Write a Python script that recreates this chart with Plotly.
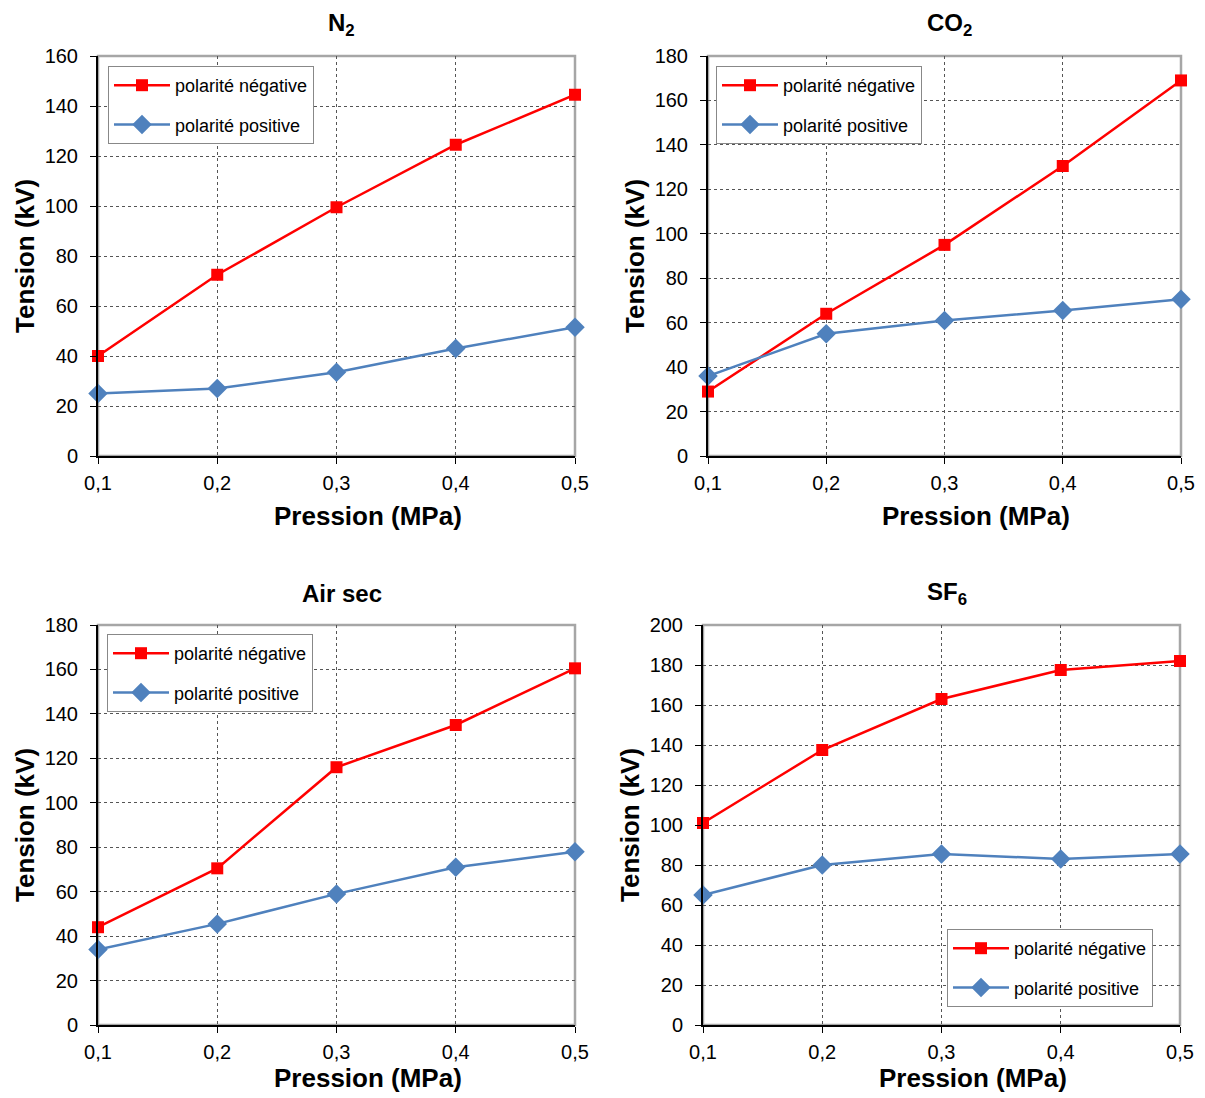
import plotly.graph_objects as go

# ---- data ----
PRESSION = [0.1, 0.2, 0.3, 0.4, 0.5]
PRESSION_LABELS = ["0,1", "0,2", "0,3", "0,4", "0,5"]

GAS_TITLES = ["<b>N<sub>2</sub></b>", "<b>CO<sub>2</sub></b>", "<b>Air sec</b>", "<b>SF<sub>6</sub></b>"]

N2_NEG = [40, 72.5, 99.5, 124.5, 144.5]
N2_POS = [25, 27, 33.5, 43, 51.5]

CO2_NEG = [29, 64, 95, 130.5, 169]
CO2_POS = [36, 55, 61, 65.5, 70.5]

AIR_NEG = [44, 70.5, 116, 135, 160.5]
AIR_POS = [34, 45.5, 59, 71, 78]

SF6_NEG = [101, 137.5, 163, 177.5, 182]
SF6_POS = [65, 80, 85.5, 83, 85.5]

Y_MAX = [160, 180, 180, 200]

NEG_NAME = "polarité négative"
POS_NAME = "polarité positive"

FONT = "Liberation Sans, Arial, sans-serif"
PAGE_W, PAGE_H = 1205, 1098
OFF = 8  # default page body margin
W, H = PAGE_W - 2 * OFF, PAGE_H - OFF


def px(xp):
    return (xp - OFF) / W


def py(yp):
    return 1 - (yp - OFF) / H


# plot-area pixel boxes on the page (left, right, top, bottom)
boxes = [(98, 575, 56, 456), (708, 1181, 56, 456), (98, 575, 625, 1025), (703, 1180, 625, 1025)]
legend_pos = [(108, 66), (716, 66), (107, 634), (947, 929)]
xtitle_gap = [60, 60, 53, 53]

series = [(N2_NEG, N2_POS), (CO2_NEG, CO2_POS), (AIR_NEG, AIR_POS), (SF6_NEG, SF6_POS)]

fig = go.Figure()
layout = dict(
    width=W, height=H, margin=dict(l=0, r=0, t=0, b=0, autoexpand=False),
    paper_bgcolor="white", plot_bgcolor="white",
    separators=", ",
    font=dict(family=FONT, color="black"),
    showlegend=True,
)
annotations = []
shapes = []

for i, ((neg, pos), (l, r, t, b)) in enumerate(zip(series, boxes)):
    k = "" if i == 0 else str(i + 1)
    xa, ya = "x" + k, "y" + k
    leg = "legend" + k
    fig.add_trace(go.Scatter(
        x=PRESSION, y=neg, name=NEG_NAME, mode="lines+markers",
        line=dict(color="#FF0000", width=2.5),
        marker=dict(symbol="square", size=12, color="#FF0000"),
        xaxis=xa, yaxis=ya, legend=leg, legendgroup=f"neg{i}", cliponaxis=False))
    fig.add_trace(go.Scatter(
        x=PRESSION, y=pos, name=POS_NAME, mode="lines+markers",
        line=dict(color="#4F81BD", width=2.5),
        marker=dict(symbol="diamond", size=15, color="#4F81BD"),
        xaxis=xa, yaxis=ya, legend=leg, legendgroup=f"pos{i}", cliponaxis=False))

    layout["xaxis" + k] = dict(
        domain=[px(l), px(r)], anchor=ya, range=[0.1, 0.5], automargin=False,
        tickvals=PRESSION, ticktext=PRESSION_LABELS,
        showline=True, linecolor="black", linewidth=2,
        ticks="outside", ticklen=6, tickcolor="black", tickwidth=1,
        ticklabelstandoff=2,
        showgrid=True, gridcolor="#555555", gridwidth=1, griddash="dot",
        zeroline=False, tickfont=dict(size=20, family=FONT, color="black"),
    )
    layout["yaxis" + k] = dict(
        domain=[py(b), py(t)], anchor=xa, range=[0, Y_MAX[i]], dtick=20, tick0=0, automargin=False,
        showline=True, linecolor="black", linewidth=2,
        ticks="outside", ticklen=6, tickcolor="black", tickwidth=1,
        ticklabelstandoff=8,
        showgrid=True, gridcolor="#555555", gridwidth=1, griddash="dot",
        zeroline=False, tickfont=dict(size=20, family=FONT, color="black"),
    )
    # gray frame (top/right)
    shapes.append(dict(type="rect", xref=xa + " domain", yref=ya + " domain",
                       x0=0, x1=1, y0=0, y1=1, layer="below",
                       line=dict(color="#A6A6A6", width=2.5)))
    lx, ly = legend_pos[i]
    layout[leg] = dict(
        x=px(lx), y=py(ly), xanchor="left", yanchor="top",
        xref="paper", yref="paper",
        bgcolor="white", bordercolor="#888888", borderwidth=1,
        font=dict(size=18, family=FONT, color="black"),
        tracegroupgap=13, itemwidth=56,
    )
    # titles
    cx = (l + r) / 2
    annotations.append(dict(text=GAS_TITLES[i], x=px(cx + 5), y=py(t - 32),
                            xref="paper", yref="paper", showarrow=False,
                            xanchor="center", yanchor="middle",
                            font=dict(size=24, family=FONT, color="black")))
    annotations.append(dict(text="<b>Pression (MPa)</b>", x=px(cx + 31), y=py(b + xtitle_gap[i]),
                            xref="paper", yref="paper", showarrow=False,
                            xanchor="center", yanchor="middle",
                            font=dict(size=26, family=FONT, color="black")))
    annotations.append(dict(text="<b>Tension (kV)</b>", x=px(l - 73), y=py((t + b) / 2),
                            xref="paper", yref="paper", showarrow=False, textangle=-90,
                            xanchor="center", yanchor="middle",
                            font=dict(size=26, family=FONT, color="black")))

layout["annotations"] = annotations
layout["shapes"] = shapes
fig.update_layout(**layout)
fig.write_html("out.html")
